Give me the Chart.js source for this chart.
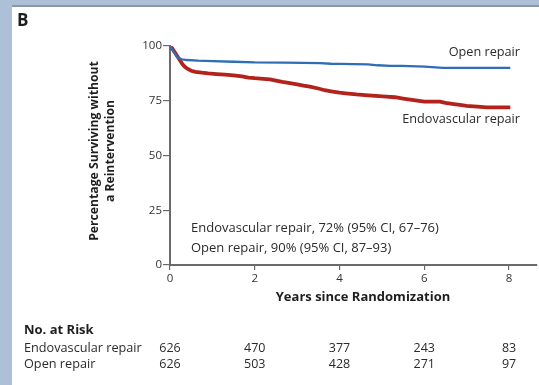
<!DOCTYPE html>
<html>
<head>
<meta charset="utf-8">
<script src="https://cdn.jsdelivr.net/npm/chart.js@4/dist/chart.umd.min.js"></script>
<style>
  html, body { margin: 0; padding: 0; width: 539px; height: 385px; overflow: hidden; background: #aebfd8; }
  #panel { position: absolute; left: 12px; top: 5px; width: 527px; height: 380px; background: #ffffff; border-top: 2px solid #8c97a6; }
  #km { position: absolute; left: 0; top: 0; }
</style>
</head>
<body>
<div id="panel"></div>
<canvas id="km" width="539" height="385"></canvas>
<script>
// Kaplan-Meier estimates, survival without reintervention (%)
const endoYears  = [0, 0.05, 0.1, 0.15, 0.2, 0.25, 0.3, 0.35, 0.42, 0.5, 0.6, 0.75, 0.9, 1.1, 1.3, 1.5, 1.7, 1.85, 2.0, 2.2, 2.36, 2.5, 2.65, 2.83, 3.0, 3.15, 3.3, 3.5, 3.65, 3.8, 4.0, 4.2, 4.4, 4.6, 4.85, 5.1, 5.31, 5.5, 5.75, 6.0, 6.37, 6.5, 6.7, 6.84, 7.0, 7.25, 7.48, 8.03];
const endoValues = [100, 99, 97.5, 96, 94.5, 93, 91.5, 90.5, 89.5, 88.7, 88.2, 87.8, 87.5, 87.2, 86.9, 86.6, 86.1, 85.6, 85.3, 85.0, 84.8, 84.2, 83.6, 83.0, 82.5, 81.9, 81.4, 80.6, 79.8, 79.3, 78.7, 78.3, 77.9, 77.6, 77.2, 76.9, 76.6, 76.0, 75.3, 74.6, 74.6, 74.0, 73.5, 73.1, 72.7, 72.3, 72.0, 72.0];
const openYears  = [0, 0.05, 0.1, 0.15, 0.2, 0.28, 0.4, 0.66, 1.0, 1.5, 2.0, 2.7, 3.54, 3.8, 4.0, 4.67, 4.9, 5.2, 5.47, 6.01, 6.44, 8.03];
const openValues = [100, 98.5, 97, 95.5, 94.5, 93.9, 93.6, 93.3, 93.1, 92.8, 92.5, 92.4, 92.2, 91.9, 91.8, 91.6, 91.2, 90.9, 90.9, 90.6, 90.0, 90.0];

// Axis ticks
const xTicks = [0, 2, 4, 6, 8];
const yTicks = [0, 25, 50, 75, 100];

// Number at risk at each x tick
const riskGroups = ['Endovascular repair', 'Open repair'];
const riskEndo = [626, 470, 377, 243, 83];
const riskOpen = [626, 503, 428, 271, 97];

// Summary estimates
const summaryLines = [
  'Endovascular repair, 72% (95% CI, 67\u201376)',
  'Open repair, 90% (95% CI, 87\u201393)'
];

const FONT = '"Open Sans", "DejaVu Sans", sans-serif';
const TXT = '#2b2b2b';
const AXIS = '#6a6a6a';

const toPoints = (xs, ys) => xs.map((x, i) => ({ x: x, y: ys[i] }));

const textPlugin = {
  id: 'kmText',
  afterDraw(chart) {
    const ctx = chart.ctx;
    const xs = chart.scales.x;
    ctx.save();
    ctx.fillStyle = '#1e1e1e';
    ctx.textBaseline = 'middle';

    // panel letter
    ctx.font = 'bold 17px ' + FONT;
    ctx.textAlign = 'left';
    ctx.fillText('B', 17, 21);

    // y-axis title (rotated, two lines)
    ctx.font = 'bold 12.2px ' + FONT;
    ctx.save();
    ctx.translate(95, 151);
    ctx.rotate(-Math.PI / 2);
    ctx.textAlign = 'center';
    ctx.fillText('Percentage Surviving without', 0, 0);
    ctx.fillText('a Reintervention', 0, 16);
    ctx.restore();

    // x-axis title
    ctx.font = 'bold 13px ' + FONT;
    ctx.textAlign = 'center';
    ctx.fillText('Years since Randomization', 363, 297);

    // curve labels
    ctx.fillStyle = TXT;
    ctx.font = '12.7px ' + FONT;
    ctx.textAlign = 'right';
    ctx.fillText('Open repair', 520, 52);
    ctx.fillText('Endovascular repair', 520, 119);

    // summary estimates
    ctx.font = '13px ' + FONT;
    ctx.textAlign = 'left';
    ctx.fillText(summaryLines[0], 191, 228);
    ctx.fillText(summaryLines[1], 191, 248);

    // number at risk table
    ctx.fillStyle = '#1e1e1e';
    ctx.font = 'bold 13px ' + FONT;
    ctx.fillText('No. at Risk', 24, 330);
    ctx.fillStyle = TXT;
    ctx.font = '12.7px ' + FONT;
    ctx.fillText(riskGroups[0], 24, 348);
    ctx.fillText(riskGroups[1], 24, 364);
    ctx.font = '12.5px ' + FONT;
    ctx.textAlign = 'center';
    xTicks.forEach((t, i) => {
      const px = xs.getPixelForValue(t);
      ctx.fillText(String(riskEndo[i]), px, 348);
      ctx.fillText(String(riskOpen[i]), px, 364);
    });
    ctx.restore();
  }
};

new Chart(document.getElementById('km'), {
  type: 'line',
  data: {
    datasets: [
      {
        label: 'Open repair',
        data: toPoints(openYears, openValues),
        borderColor: '#2f6db5',
        borderWidth: 2.3,
        pointRadius: 0,
        tension: 0,
        fill: false
      },
      {
        label: 'Endovascular repair',
        data: toPoints(endoYears, endoValues),
        borderColor: '#b3231b',
        borderWidth: 3.8,
        pointRadius: 0,
        tension: 0,
        fill: false
      }
    ]
  },
  options: {
    responsive: false,
    animation: false,
    devicePixelRatio: 1,
    layout: { padding: { top: 46, right: 2, bottom: 0, left: 0 } },
    plugins: { legend: { display: false }, tooltip: { enabled: false } },
    scales: {
      x: {
        type: 'linear',
        min: 0,
        max: 8.66,
        afterFit: (s) => { s.height = 120; },
        afterBuildTicks: (s) => { s.ticks = xTicks.map(v => ({ value: v })); },
        border: { display: true, color: AXIS, width: 2 },
        grid: { drawOnChartArea: false, drawTicks: true, tickLength: 5, color: AXIS, lineWidth: 1.2 },
        ticks: { color: '#333', font: { family: FONT, size: 11.5 }, padding: 2, maxRotation: 0 }
      },
      y: {
        type: 'linear',
        min: 0,
        max: 100,
        afterFit: (s) => { s.width = 170; },
        afterBuildTicks: (s) => { s.ticks = yTicks.map(v => ({ value: v })); },
        border: { display: true, color: AXIS, width: 2 },
        grid: { drawOnChartArea: false, drawTicks: true, tickLength: 7, color: AXIS, lineWidth: 1.2 },
        ticks: { color: '#333', font: { family: FONT, size: 11.5 }, padding: 1 }
      }
    }
  },
  plugins: [textPlugin]
});
</script>
</body>
</html>
